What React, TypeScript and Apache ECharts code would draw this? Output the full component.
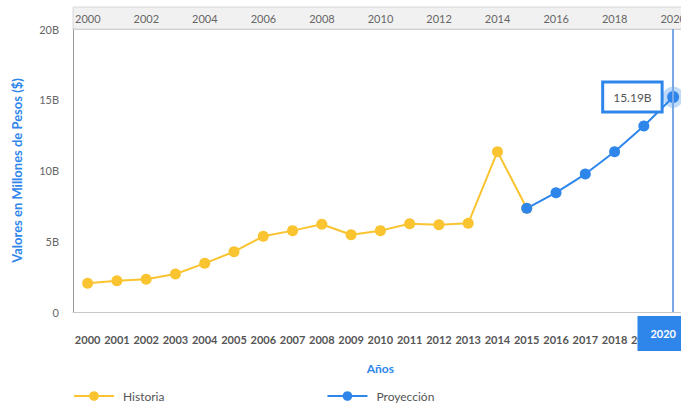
import React, { useEffect, useRef } from "react";
import * as echarts from "echarts";

const years = ["2000","2001","2002","2003","2004","2005","2006","2007","2008","2009","2010","2011","2012","2013","2014","2015","2016","2017","2018","2019","2020"];
const historia = [2.03, 2.21, 2.31, 2.69, 3.44, 4.26, 5.35, 5.75, 6.2, 5.46, 5.75, 6.24, 6.17, 6.27, 11.33, 7.33, null, null, null, null, null];
const proyeccion = [null, null, null, null, null, null, null, null, null, null, null, null, null, null, null, 7.33, 8.43, 9.75, 11.33, 13.14, 15.19];
const yTicks = [0, 5, 10, 15, 20];
const highlightIndex = 20;

const YELLOW = "#f9c430";
const BLUE = "#2e86eb";
const FONT = "Lato";

export default function App() {
  const ref = useRef<HTMLDivElement>(null);
  useEffect(() => {
    if (!ref.current) return;
    const chart = echarts.init(ref.current, null, { renderer: "svg" });
    const projData = proyeccion.map((v, i) =>
      i === highlightIndex && v !== null
        ? {
            value: v,
            symbolSize: 12,
            itemStyle: { color: BLUE, borderColor: "rgba(46,134,235,0.3)", borderWidth: 9 },
            label: {
              show: true,
              position: "left",
              distance: 2,
              formatter: (p: any) => p.value.toFixed(2) + "B",
              backgroundColor: "#fff",
              borderColor: BLUE,
              borderWidth: 3,
              padding: [8, 9, 7, 9],
              color: "#555",
              fontSize: 12,
              fontFamily: FONT,
            },
          }
        : v
    );
    chart.setOption({
      animation: false,
      textStyle: { fontFamily: FONT },
      grid: { left: 73, right: 1, top: 29, bottom: 93 },
      graphic: [
        {
          type: "rect",
          z: -10,
          shape: { x: 73, y: 7, width: 640, height: 22 },
          style: { fill: "#f1f1f1", stroke: "#d8d8d8", lineWidth: 1 },
        },
      ],
      legend: {
        left: 68,
        top: 385,
        itemWidth: 40,
        itemHeight: 12,
        itemGap: 162,
        textStyle: { color: "#555", fontSize: 12, fontFamily: FONT, padding: [0, 0, 0, 4] },
        data: ["Historia", "Proyección"],
      },
      xAxis: [
        {
          type: "category",
          data: years,
          boundaryGap: true,
          name: "Años",
          nameLocation: "middle",
          nameGap: 50,
          nameTextStyle: { color: BLUE, fontSize: 12, fontWeight: "bold", fontFamily: FONT },
          axisLine: { lineStyle: { color: "#c8c8c8" } },
          axisTick: { alignWithLabel: true, length: 10, lineStyle: { color: "#666" } },
          axisLabel: { interval: 0, margin: 22, color: "#555", fontSize: 11, fontWeight: "bold", fontFamily: FONT },
          axisPointer: {
            show: true,
            status: "show",
            value: highlightIndex,
            type: "line",
            triggerTooltip: false,
            lineStyle: { color: "#78a9e6", width: 2, type: "solid" },
            label: {
              show: true,
              margin: 4,
              backgroundColor: BLUE,
              color: "#fff",
              fontSize: 11,
              fontWeight: "bold",
              fontFamily: FONT,
              padding: [12, 13, 12, 13],
              borderRadius: 0,
              shadowBlur: 0,
            },
          },
        },
        {
          type: "value",
          position: "top",
          min: 2000,
          max: 2021,
          interval: 2,
          axisLine: { show: true, lineStyle: { color: "#d0d0d0" } },
          axisTick: { show: false },
          splitLine: { show: false },
          axisLabel: {
            showMaxLabel: false,
            align: "left",
            margin: 5,
            padding: [0, 0, 0, 2],
            color: "#666",
            fontSize: 11,
            fontFamily: FONT,
            formatter: (v: number) => String(v),
          },
        },
      ],
      yAxis: {
        type: "value",
        min: yTicks[0],
        max: yTicks[yTicks.length - 1],
        interval: 5,
        name: "Valores en Millones de Pesos ($)",
        nameLocation: "middle",
        nameGap: 50,
        nameTextStyle: { color: BLUE, fontSize: 13, fontWeight: "bold", fontFamily: FONT },
        axisLine: { show: true, lineStyle: { color: "#999" } },
        axisTick: { show: false },
        splitLine: { show: false },
        axisLabel: {
          margin: 14,
          color: "#666",
          fontSize: 11,
          fontFamily: FONT,
          formatter: (v: number) => (v === 0 ? "0" : v + "B"),
        },
      },
      series: [
        {
          name: "Historia",
          type: "line",
          data: historia,
          symbol: "circle",
          symbolSize: 11,
          itemStyle: { color: YELLOW },
          lineStyle: { color: YELLOW, width: 2 },
          connectNulls: false,
        },
        {
          name: "Proyección",
          type: "line",
          data: projData,
          symbol: "circle",
          symbolSize: 11,
          itemStyle: { color: BLUE },
          lineStyle: { color: BLUE, width: 2 },
          z: 3,
        },
      ],
    });
    return () => chart.dispose();
  }, []);
  return (
    <div style={{ position: "absolute", left: 0, top: 0, width: 681, height: 405, overflow: "hidden", background: "#fff" }}>
      <div ref={ref} style={{ width: 689, height: 405 }} />
    </div>
  );
}
